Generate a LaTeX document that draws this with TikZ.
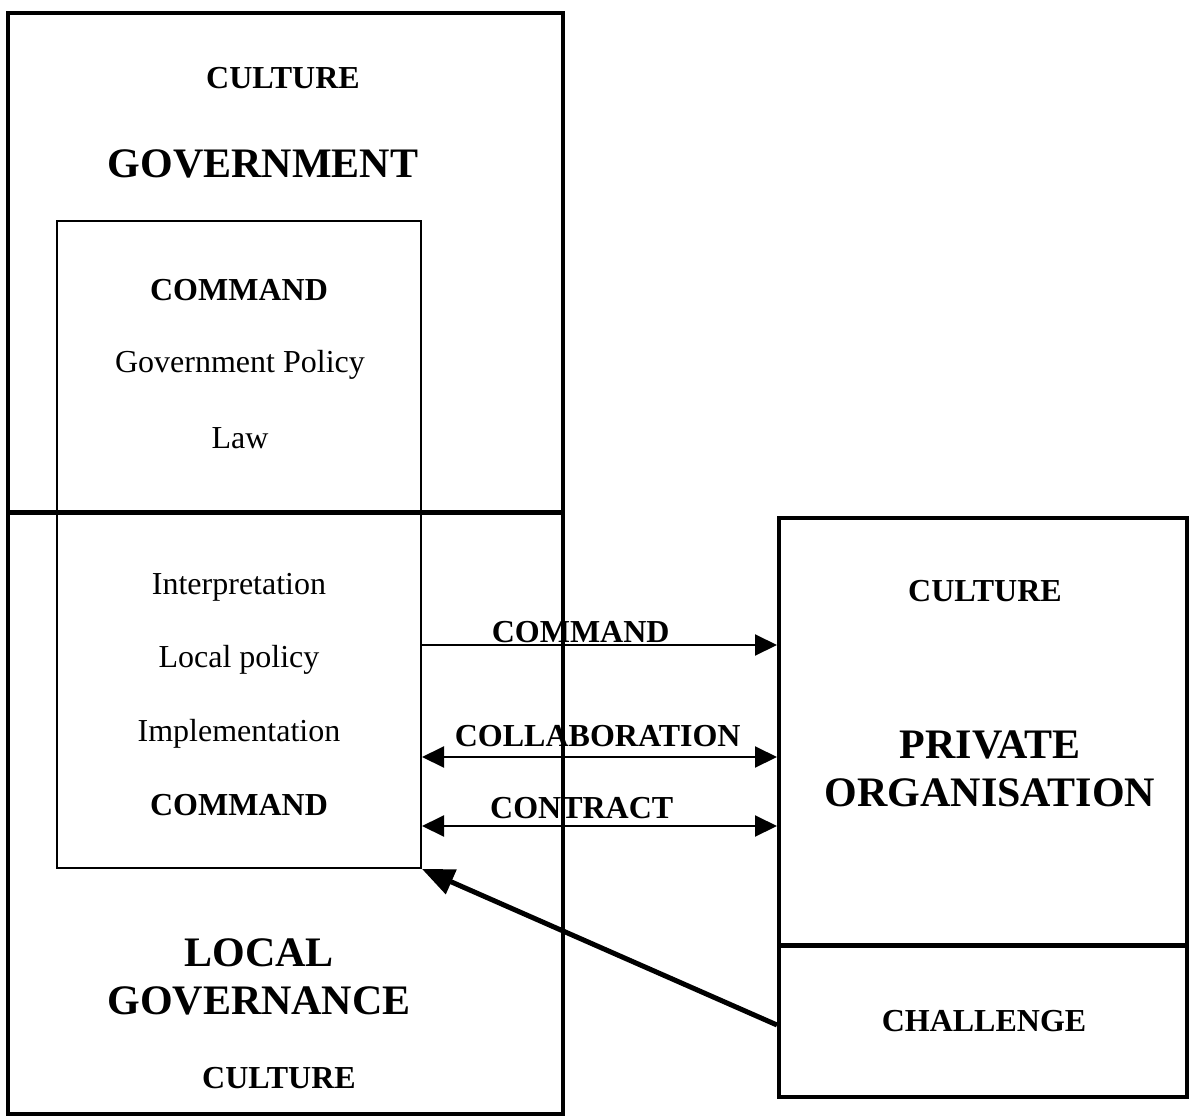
\documentclass[tikz,border=0pt]{standalone}
\usepackage{fontspec}
\setmainfont{Liberation Serif}
\usetikzlibrary{arrows.meta,positioning}

\begin{document}
\begin{tikzpicture}[x=1pt,y=-1pt,
	txt/.style={font=\fontsize{32}{38}\selectfont},
	hdr/.style={font=\fontsize{32}{38}\selectfont\bfseries},
	big/.style={font=\fontsize{42}{48}\selectfont\bfseries, align=center},
	conn/.style={line width=2pt},
	tip/.style={-{Triangle[length=22pt,width=21pt]}},
	tips/.style={{Triangle[length=22pt,width=21pt]}-{Triangle[length=22pt,width=21pt]}}]
	\useasboundingbox (0,0) rectangle (1196,1118);
	% boxes
	\node[draw, line width=4pt, minimum width=555pt, minimum height=1101pt] (govbox) at (285.5,563.5) {};
	\node[draw, line width=2pt, minimum width=364pt, minimum height=647pt] (inner) at (239,544.5) {};
	\node[draw, line width=4pt, minimum width=408pt, minimum height=579pt] (priv) at (983,807.5) {};
	\coordinate (gdiv) at (0,512);
	\coordinate (pdiv) at (0,945);
	\draw[line width=5pt] (govbox.west |- gdiv) -- (govbox.east |- gdiv);
	\draw[line width=5pt] (priv.west |- pdiv) -- (priv.east |- pdiv);
	% texts
	\node[hdr] (cultop) at (283,78) {CULTURE};
	\node[big] (gov) at (263,164) {GOVERNMENT};
	\node[hdr] (cmdtop) at (239,290) {COMMAND};
	\node[txt] (govpol) at (240,365) {Government Policy};
	\node[txt] (law) at (240,438) {Law};
	\node[txt] (interp) at (239,587) {Interpretation};
	\node[txt] (locpol) at (239,660) {Local policy};
	\node[txt] (impl) at (239,734) {Implementation};
	\node[hdr] (cmdbot) at (239,805) {COMMAND};
	\node[big] (locgov) at (259,977) {LOCAL\\GOVERNANCE};
	\node[hdr] (culbot) at (279,1078) {CULTURE};
	\node[hdr] (culpriv) at (985,591) {CULTURE};
	\node[big] (privorg) at (990,769) {PRIVATE\\ORGANISATION};
	\node[hdr] (chal) at (984,1021) {CHALLENGE};
	% connectors
	\coordinate (rowa) at (0,645);
	\coordinate (rowb) at (0,757);
	\coordinate (rowc) at (0,826);
	\coordinate (rowd) at (0,1025);
	\draw[conn, tip] (inner.east |- rowa) -- node[hdr, pos=0.447, anchor=base, yshift=3pt] {COMMAND} (priv.west |- rowa);
	\draw[conn, tips] (inner.east |- rowb) -- node[hdr, pos=0.495, anchor=base, yshift=11pt] {COLLABORATION} (priv.west |- rowb);
	\draw[conn, tips] (inner.east |- rowc) -- node[hdr, pos=0.45, anchor=base, yshift=8pt] {CONTRACT} (priv.west |- rowc);
	\draw[line width=5pt, -{Triangle[length=32pt,width=26pt]}] (priv.west |- rowd) -- (inner.south east);
\end{tikzpicture}
\end{document}
